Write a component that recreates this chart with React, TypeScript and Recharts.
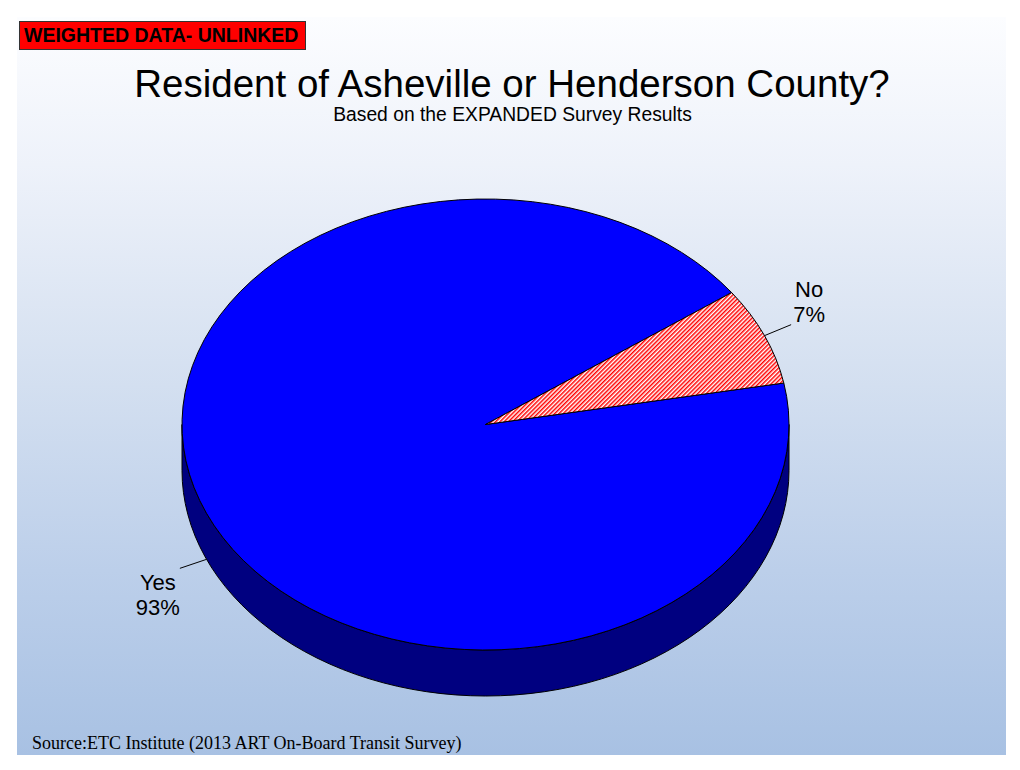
import React from 'react';
import { PieChart, Pie } from 'recharts';

const CATEGORIES = ['Yes', 'No'];
const SHARES = [93, 7];
const FILLS = ['#0000ff', 'url(#hatchRed)'];

const chartData = CATEGORIES.map((name, i) => ({ name, value: SHARES[i], fill: FILLS[i] }));

// 3D look: the library's circle is squashed into an ellipse and given a wall
const TILT = 0.743;
const DEPTH = 46;
const RAD = Math.PI / 180;

const pt = (cx: number, cy: number, rx: number, ry: number, a: number) => [
  cx + rx * Math.cos(a * RAD),
  cy - ry * Math.sin(a * RAD),
];

const TopShape = (props: any) => {
  const { cx, cy, outerRadius, startAngle, endAngle, fill } = props;
  const rx = outerRadius;
  const ry = outerRadius * TILT;
  const s = Math.min(startAngle, endAngle);
  const e = Math.max(startAngle, endAngle);
  const [x1, y1] = pt(cx, cy, rx, ry, s);
  const [x2, y2] = pt(cx, cy, rx, ry, e);
  const large = e - s > 180 ? 1 : 0;
  const d = `M${cx},${cy} L${x1},${y1} A${rx},${ry} 0 ${large} 0 ${x2},${y2} Z`;
  return <path d={d} fill={fill} stroke="#000" strokeWidth={1} strokeLinejoin="round" />;
};

const WallShape = (props: any) => {
  const { cx, cy, outerRadius, startAngle, endAngle } = props;
  const rx = outerRadius;
  const ry = outerRadius * TILT;
  const s = Math.min(startAngle, endAngle);
  const e = Math.max(startAngle, endAngle);
  const parts: React.ReactNode[] = [];
  [0, 1].forEach((k) => {
    const a = Math.max(s, 180 + 360 * k);
    const b = Math.min(e, 360 + 360 * k);
    if (b <= a) return;
    const [ax, ay] = pt(cx, cy, rx, ry, a);
    const [bx, by] = pt(cx, cy, rx, ry, b);
    const d = `M${ax},${ay} A${rx},${ry} 0 0 0 ${bx},${by} L${bx},${by + DEPTH} A${rx},${ry} 0 0 1 ${ax},${ay + DEPTH} Z`;
    parts.push(<path key={k} d={d} fill="#000080" stroke="#000" strokeWidth={1} />);
  });
  return (
    <g>
      <defs>
        <pattern id="hatchRed" patternUnits="userSpaceOnUse" width={3} height={3} patternTransform="rotate(45)">
          <rect width={3} height={3} fill="#fff" />
          <rect width={1.5} height={3} fill="#ff0000" />
        </pattern>
      </defs>
      {parts}
    </g>
  );
};

const renderLabel = (props: any) => {
  const { cx, cy, outerRadius, midAngle, name, value } = props;
  const rx = outerRadius;
  const ry = outerRadius * TILT;
  const c = Math.cos(midAngle * RAD);
  const sn = Math.sin(midAngle * RAD);
  let [x, y] = pt(cx, cy, rx, ry, midAngle);
  if (sn < 0) y += DEPTH;
  const ex = x + 29 * c;
  const ey = y - 10 * Math.sign(sn) - 1;
  const tx = c < 0 ? ex - 22 : ex + 18;
  const ty = sn < 0 ? ey + 22 : ey - 28;
  return (
    <g>
      <line x1={x} y1={y} x2={ex} y2={ey} stroke="#000" strokeWidth={1} />
      <text x={tx} y={ty} textAnchor="middle" fontFamily="'Liberation Sans', Arial, sans-serif" fontSize={22} fill="#000">
        <tspan x={tx} dy={0}>{name}</tspan>
        <tspan x={tx} dy={25}>{`${value}%`}</tspan>
      </text>
    </g>
  );
};

export default function App() {
  return (
    <div style={{ margin: -8, width: 1020, height: 770, position: 'relative', background: '#fff', overflow: 'hidden', fontFamily: "'Liberation Sans', Arial, sans-serif" }}>
      <div style={{ position: 'absolute', left: 1, top: 1, width: 1019, height: 769, borderLeft: '1px solid #000', borderTop: '1px solid #000' }} />
      <div style={{ position: 'absolute', left: 17, top: 17, width: 989, height: 738, background: 'linear-gradient(to bottom, #fcfdff 0%, #eef2fa 20%, #d3dff0 50%, #bccfea 75%, #a8c1e3 100%)' }} />
      <div style={{ position: 'absolute', left: 19, top: 21, width: 287, height: 29, background: '#ff0000', border: '1px solid #333', boxSizing: 'border-box', fontWeight: 'bold', fontSize: 19.5, lineHeight: '27px', paddingLeft: 4, color: '#000', whiteSpace: 'nowrap' }}>
        WEIGHTED DATA- UNLINKED
      </div>
      <div style={{ position: 'absolute', left: 0, top: 62, width: 1024, textAlign: 'center', fontSize: 38.5, lineHeight: '44px', color: '#000', whiteSpace: 'nowrap' }}>
        Resident of Asheville or Henderson County?
      </div>
      <div style={{ position: 'absolute', left: 0, top: 104, width: 1025, textAlign: 'center', fontSize: 19.3, lineHeight: '22px', color: '#000', whiteSpace: 'nowrap' }}>
        Based on the EXPANDED Survey Results
      </div>
      <div style={{ position: 'absolute', left: 32, top: 733, fontFamily: "'Liberation Serif', 'Times New Roman', serif", fontSize: 18, lineHeight: '20px', color: '#000', whiteSpace: 'nowrap' }}>
        Source:ETC Institute (2013 ART On-Board Transit Survey)
      </div>
      <div style={{ position: 'absolute', left: 0, top: 0 }}>
        <PieChart width={1020} height={770} margin={{ top: 0, right: 0, bottom: 0, left: 0 }}>
          <Pie
            data={chartData}
            dataKey="value"
            nameKey="name"
            cx={485.5}
            cy={424.5}
            outerRadius={303.5}
            startAngle={35.8}
            endAngle={395.8}
            stroke="none"
            shape={WallShape}
            isAnimationActive={false}
          />
          <Pie
            data={chartData}
            dataKey="value"
            nameKey="name"
            cx={485.5}
            cy={424.5}
            outerRadius={303.5}
            startAngle={35.8}
            endAngle={395.8}
            shape={TopShape}
            label={renderLabel}
            labelLine={false}
            isAnimationActive={false}
          />
        </PieChart>
      </div>
    </div>
  );
}
